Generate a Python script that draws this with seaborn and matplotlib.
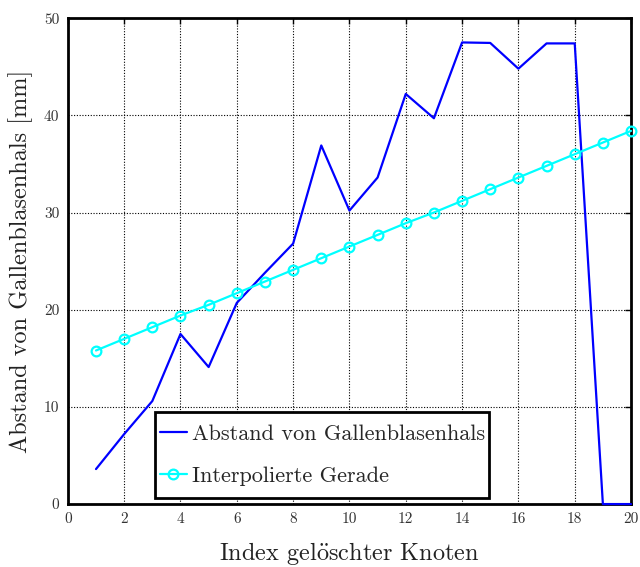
import numpy as np
import pandas as pd
import matplotlib
matplotlib.use("Agg")
import matplotlib.pyplot as plt
from matplotlib.patches import Rectangle
from matplotlib.transforms import IdentityTransform
import seaborn as sns

x_index = list(range(1, 21))
abstand = [3.6, 7.2, 10.6, 17.5, 14.1, 20.7, 23.8, 26.8, 36.9, 30.2,
           33.6, 42.2, 39.7, 47.5, 47.45, 44.8, 47.4, 47.4, 0.0, 0.0]
gerade = [15.8, 17.0, 18.2, 19.4, 20.5, 21.7, 22.9, 24.1, 25.3, 26.5,
          27.7, 28.9, 30.0, 31.2, 32.4, 33.6, 34.8, 36.0, 37.2, 38.4]
xticks = list(range(0, 21, 2))
yticks = list(range(0, 51, 10))

sns.set_theme(style="white")
plt.rcParams['font.family'] = ['cmr10', 'DejaVu Serif']
plt.rcParams['axes.formatter.use_mathtext'] = True
plt.rcParams['mathtext.fontset'] = 'cm'
plt.rcParams['mathtext.rm'] = 'cmr10'

df = pd.DataFrame({"x": x_index, "abstand": abstand, "gerade": gerade})

fig = plt.figure(figsize=(6.4, 5.67), dpi=100)
ax = fig.add_axes([0.106, 0.111, 0.880, 0.857])

sns.lineplot(data=df, x="x", y="abstand", ax=ax, color=(0, 0, 1), lw=1.6,
             label="Abstand von Gallenblasenhals", zorder=3, clip_on=False)
sns.lineplot(data=df, x="x", y="gerade", ax=ax, color=(0, 1, 1), lw=1.6,
             marker="o", markersize=7, markerfacecolor="none",
             markeredgecolor=(0, 1, 1), markeredgewidth=1.6,
             label="Interpolierte Gerade", zorder=3, clip_on=False)

ax.set_xlim(0, 20)
ax.set_ylim(0, 50)
ax.set_xticks(xticks)
ax.set_yticks(yticks)
ax.set_xticklabels([str(t) for t in xticks])
ax.set_yticklabels([str(t) for t in yticks])
ax.grid(True, color="black", linestyle=(0, (1, 1.5)), linewidth=0.8)
ax.set_axisbelow(True)
for s in ax.spines.values():
    s.set_color("black")
    s.set_linewidth(2)
ax.tick_params(direction="in", length=4, width=1, colors="black",
               top=True, right=True, labelsize=11, pad=6)
for lab in ax.get_xticklabels() + ax.get_yticklabels():
    lab.set_color("#333333")

ax.set_xlabel(r"Index gel$\ddot{\mathrm{o}}$schter Knoten", fontsize=17.5,
              labelpad=10, color="#222222")
ax.set_ylabel("Abstand von Gallenblasenhals [mm]", fontsize=17.5,
              labelpad=8, color="#222222")

leg = ax.legend(loc="lower left", bbox_to_anchor=(0.155, 0.029), fontsize=16,
                frameon=False, handlelength=1.25, handletextpad=0.2,
                borderpad=0.2, labelspacing=1.0, borderaxespad=0)
leg.set_zorder(10)

fig.canvas.draw()
bb = leg.get_window_extent()
extra_y = 8
frame = Rectangle((bb.x0, bb.y0 - extra_y), bb.width, bb.height + 2 * extra_y,
                  transform=IdentityTransform(), facecolor="white",
                  edgecolor="black", linewidth=2, zorder=9, clip_on=False)
ax.add_artist(frame)

fig.savefig("out.png", dpi=100)
